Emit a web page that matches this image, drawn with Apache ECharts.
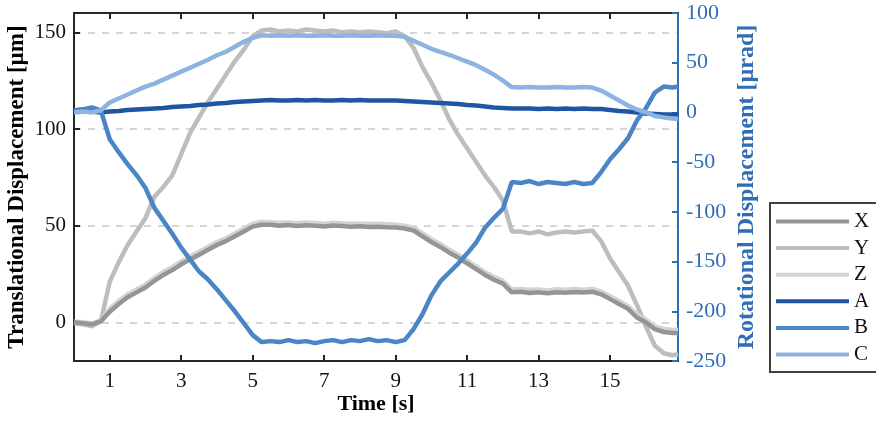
<!DOCTYPE html>
<html>
<head>
<meta charset="utf-8">
<script src="https://cdn.jsdelivr.net/npm/echarts@6/dist/echarts.min.js"></script>
<style>
html, body { margin: 0; padding: 0; background: #fff; }
#chart { width: 876px; height: 422px; }
</style>
</head>
<body>
<div id="chart"></div>
<script>
// time samples [s]
var times = [0, 0.25, 0.5, 0.75, 1, 1.25, 1.5, 1.75, 2, 2.25, 2.5, 2.75, 3, 3.25, 3.5, 3.75,
  4, 4.25, 4.5, 4.75, 5, 5.25, 5.5, 5.75, 6, 6.25, 6.5, 6.75, 7, 7.25, 7.5, 7.75,
  8, 8.25, 8.5, 8.75, 9, 9.25, 9.5, 9.75, 10, 10.25, 10.5, 10.75, 11, 11.25, 11.5, 11.75,
  12, 12.25, 12.5, 12.75, 13, 13.25, 13.5, 13.75, 14, 14.25, 14.5, 14.75, 15, 15.25, 15.5, 15.75,
  16, 16.25, 16.5, 16.75, 16.9];

// translational displacement [um]
var xVals = [0, -0.5, -1, 0.5, 5.5, 9.5, 13, 15.5, 18, 21.5, 24.5, 27, 30, 32.5, 35, 37.5,
  40, 42, 44.5, 47, 49.5, 50.5, 50.5, 50, 50.3, 49.8, 50.2, 50, 49.6, 50.1, 49.8, 49.5,
  49.7, 49.3, 49.5, 49.2, 49, 48.5, 47.5, 44.5, 41.5, 39, 36, 33.5, 30.5, 27.5, 24.5, 22,
  20, 15.5, 15.8, 15.2, 15.5, 15, 15.6, 15.3, 15.7, 15.4, 15.8, 14.5, 12, 9.5, 7, 2.5,
  0, -3.5, -5, -5.5, -5.5];
var yVals = [-0.5, -1, -2, 0.5, 21, 31, 40, 47, 54, 65, 70, 76, 87, 98, 106, 114,
  121, 128, 135, 141, 148, 151, 151.5, 150.5, 151, 150.5, 151.5, 151, 150.5, 151, 150, 150.5,
  150, 150.5, 150, 149.5, 150.5, 148, 142, 132, 124, 115, 105, 97, 90, 83, 76, 70,
  63, 47, 47, 46, 47, 45.5, 46.5, 47, 46.5, 47, 47.5, 42, 33, 26, 19, 9,
  -2, -12, -16, -17, -16.5];
var zVals = [0.5, 0, -0.5, 1, 7, 11, 14.5, 17, 19.5, 23, 26, 28.5, 31.5, 34, 36.5, 39,
  41.5, 43.5, 46, 48.5, 51, 52, 51.8, 51.5, 51.7, 51.3, 51.6, 51.4, 51, 51.5, 51.2, 51,
  51.1, 50.8, 51, 50.7, 50.5, 50, 49, 46, 43, 40.5, 37.5, 35, 32, 29, 26, 23.5,
  21.5, 17, 17.2, 16.8, 17, 16.5, 17.1, 16.8, 17.2, 16.9, 17.3, 16, 13.5, 11, 8.5, 4,
  1.5, -2, -3.5, -4, -4];

// rotational displacement [urad]
var aVals = [2, 3, 1, 0, 1, 1.5, 2.5, 3, 3.5, 4, 4.5, 5.5, 6, 6.5, 7.5, 8,
  9, 9.5, 10.5, 11, 11.5, 12, 12.5, 12, 12, 12.5, 12, 12.5, 12, 12, 12.5, 12,
  12.5, 12, 12, 12, 12, 11.5, 11, 10.5, 10, 9.5, 9, 8.5, 7.5, 7, 6, 5,
  4.5, 4, 4, 4, 3.5, 4, 3.5, 4, 3.5, 4, 3.5, 3.5, 2.5, 1.5, 1, 0,
  -1, -1.5, -2, -2, -2];
var bVals = [2, 3, 5, 2, -27, -40, -52, -63, -76, -96, -109, -122, -136, -148, -160, -168,
  -178, -189, -200, -212, -224, -231, -230, -231, -229, -231, -230, -232, -230, -229, -231, -229,
  -230, -228, -230, -229, -231, -229, -218, -203, -184, -170, -161, -152, -142, -131, -116, -106,
  -97, -70, -71, -69, -72, -70, -71, -72, -70, -72, -71, -60, -47, -37, -26, -8,
  4, 20, 26, 25, 26];
var cVals = [0, 1, 0, 2, 10, 14, 18, 22, 26, 29, 33, 37, 41, 45, 49, 53,
  57.5, 61, 66, 71, 75, 77.5, 77, 77.5, 77, 77.5, 77, 77, 77.5, 77, 77, 77.5,
  77, 77, 77.5, 77, 77, 76, 72, 68, 64, 61, 58, 54.5, 51, 47.5, 43, 38,
  32, 25.5, 25, 25.5, 25, 25, 25.5, 25, 25, 25.5, 25, 22, 17, 12, 7, 3,
  0, -3.5, -5, -6, -6.5];

var timeTicks = [1, 3, 5, 7, 9, 11, 13, 15];
var transTicks = [0, 50, 100, 150];

var serif = 'Liberation Serif';
var black = '#262626';
var blue = '#2f6db5';

function pairs(vals) {
  var out = [];
  for (var i = 0; i < times.length; i++) out.push([times[i], vals[i]]);
  return out;
}

function line(name, vals, color, axis, z) {
  return {
    name: name,
    type: 'line',
    yAxisIndex: axis,
    data: pairs(vals),
    showSymbol: false,
    color: color,
    lineStyle: { width: 4.5, color: color },
    z: z
  };
}

var myChart = echarts.init(document.getElementById('chart'));
var option = {
  animation: false,
  backgroundColor: '#fff',
  grid: { left: 74, right: 198, top: 13, bottom: 61, outerBoundsMode: 'none', containLabel: false },
  legend: {
    orient: 'vertical',
    left: 770,
    top: 203,
    data: ['X', 'Y', 'Z', 'A', 'B', 'C'],
    icon: 'rect',
    itemWidth: 73,
    itemHeight: 4,
    itemGap: 5.6,
    padding: [8, 30, 7, 6],
    borderColor: '#404040',
    borderWidth: 2,
    backgroundColor: '#fff',
    textStyle: { fontFamily: serif, fontSize: 21, lineHeight: 20, color: '#111' }
  },
  xAxis: [
    {
      type: 'value', min: 0, max: 16.9, position: 'bottom',
      name: 'Time [s]', nameLocation: 'middle', nameGap: 32, nameMoveOverlap: false,
      nameTextStyle: { fontFamily: serif, fontSize: 22, fontWeight: 'bold', color: '#000' },
      axisLine: { onZero: false, lineStyle: { color: black, width: 2 } },
      axisTick: { inside: true, length: 6, customValues: timeTicks, lineStyle: { color: black, width: 2 } },
      axisLabel: { customValues: timeTicks, fontFamily: serif, fontSize: 21, color: '#111', margin: 10 },
      splitLine: { show: false }
    },
    {
      type: 'value', min: 0, max: 16.9, position: 'top',
      axisLine: { onZero: false, lineStyle: { color: black, width: 2 } },
      axisTick: { inside: true, length: 6, customValues: timeTicks, lineStyle: { color: black, width: 2 } },
      axisLabel: { show: false },
      splitLine: { show: false }
    }
  ],
  yAxis: [
    {
      type: 'value', min: -20, max: 160, position: 'left',
      name: 'Translational Displacement [µm]', nameLocation: 'middle', nameGap: 45, nameRotate: 90,
      nameMoveOverlap: false,
      nameTextStyle: { fontFamily: serif, fontSize: 23, fontWeight: 'bold', color: '#000' },
      axisLine: { show: true, onZero: false, lineStyle: { color: black, width: 2 } },
      axisTick: { show: true, inside: true, length: 6, customValues: transTicks, lineStyle: { color: black, width: 2 } },
      axisLabel: { customValues: transTicks, fontFamily: serif, fontSize: 21, color: '#111', margin: 8 },
      splitLine: { show: true, lineStyle: { color: '#c8c8c8', width: 1.5, type: [7, 7] } }
    },
    {
      type: 'value', min: -250, max: 100, interval: 50, position: 'right',
      name: 'Rotational Displacement [µrad]', nameLocation: 'middle', nameGap: 57, nameRotate: 90,
      nameMoveOverlap: false,
      nameTextStyle: { fontFamily: serif, fontSize: 24, fontWeight: 'bold', color: blue },
      axisLine: { show: true, onZero: false, lineStyle: { color: blue, width: 2 } },
      axisTick: { show: true, inside: true, length: 6, lineStyle: { color: blue, width: 2 } },
      axisLabel: { fontFamily: serif, fontSize: 22, color: blue, margin: 8 },
      splitLine: { show: false }
    }
  ],
  series: [
    line('X', xVals, '#959595', 0, 4),
    line('Y', yVals, '#bdbdbd', 0, 2),
    line('Z', zVals, '#d3d3d3', 0, 3),
    line('A', aVals, '#1f56a3', 1, 5),
    line('B', bVals, '#4a85c6', 1, 5),
    line('C', cVals, '#8db4e0', 1, 5)
  ]
};
myChart.setOption(option);
</script>
</body>
</html>
